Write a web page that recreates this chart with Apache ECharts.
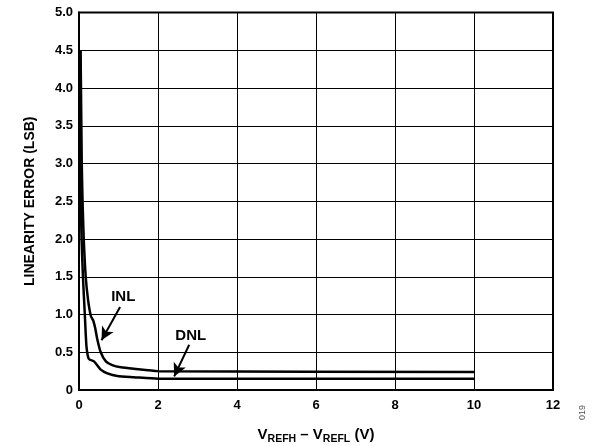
<!DOCTYPE html>
<html>
<head>
<meta charset="utf-8">
<script src="https://cdn.jsdelivr.net/npm/echarts@6/dist/echarts.min.js"></script>
<style>html,body{margin:0;padding:0;background:#fff}#c{width:600px;height:446px}</style>
</head>
<body>
<div id="c"></div>
<script>
var xTicks = [0, 2, 4, 6, 8, 10, 12];
var yTicks = [0, 0.5, 1.0, 1.5, 2.0, 2.5, 3.0, 3.5, 4.0, 4.5, 5.0];
var inlX = [0.04, 0.05, 0.07, 0.09, 0.12, 0.17, 0.23, 0.30, 0.36, 0.41, 0.46, 0.55, 0.68, 0.84, 1.06, 1.39, 2.0, 10];
var inlY = [4.5, 4.0, 3.0, 2.5, 2.0, 1.5, 1.19, 0.98, 0.92, 0.82, 0.68, 0.50, 0.38, 0.33, 0.30, 0.28, 0.25, 0.24];
var dnlX = [0.03, 0.035, 0.04, 0.065, 0.10, 0.15, 0.19, 0.25, 0.38, 0.55, 0.72, 0.97, 1.39, 2.0, 10];
var dnlY = [4.5, 3.5, 2.65, 2.0, 1.5, 0.97, 0.57, 0.41, 0.38, 0.27, 0.22, 0.185, 0.17, 0.15, 0.15];
var labelINL = {name: 'INL', x: 1.12, y: 1.24};
var labelDNL = {name: 'DNL', x: 2.83, y: 0.72};
var arrowINL = [[1.04, 1.10], [0.57, 0.66]];
var arrowDNL = [[2.79, 0.60], [2.41, 0.18]];

function pairs(xs, ys) { return xs.map(function (x, i) { return [x, ys[i]]; }); }
var FONT = '"Liberation Sans", Arial, sans-serif';

var chart = echarts.init(document.getElementById('c'), null, {renderer: 'canvas'});
chart.setOption({
  animation: false,
  backgroundColor: '#fff',
  grid: {left: 79, right: 47, top: 12.5, bottom: 56, containLabel: false, outerBoundsMode: 'none',
    show: true, borderColor: '#000', borderWidth: 2, backgroundColor: 'transparent'},
  xAxis: {
    type: 'value', min: xTicks[0], max: xTicks[xTicks.length - 1], interval: 2,
    axisLine: {show: true, lineStyle: {color: '#000', width: 2}},
    axisTick: {show: false},
    splitLine: {show: true, lineStyle: {color: '#000', width: 1}},
    axisLabel: {color: '#000', fontFamily: FONT, fontWeight: 'bold', fontSize: 13, margin: 9},
    name: '{a|V}{s|REFH}{a| – V}{s|REFL}{a| (V)}',
    nameLocation: 'middle', nameGap: 35,
    nameTextStyle: {
      rich: {
        a: {fontFamily: FONT, fontWeight: 'bold', fontSize: 15, color: '#000', verticalAlign: 'bottom', lineHeight: 17},
        s: {fontFamily: FONT, fontWeight: 'bold', fontSize: 10.5, color: '#000', verticalAlign: 'bottom', lineHeight: 10, padding: [0, 0, -3, 0]}
      }
    }
  },
  yAxis: {
    type: 'value', min: yTicks[0], max: yTicks[yTicks.length - 1], interval: 0.5,
    axisLine: {show: true, lineStyle: {color: '#000', width: 2}},
    axisTick: {show: false},
    splitLine: {show: true, lineStyle: {color: '#000', width: 1}},
    axisLabel: {color: '#000', fontFamily: FONT, fontWeight: 'bold', fontSize: 13, margin: 6,
      formatter: function (v) { return v === 0 ? '0' : v.toFixed(1); }},
    name: 'LINEARITY ERROR (LSB)', nameLocation: 'middle', nameGap: 42,
    nameTextStyle: {color: '#000', fontFamily: FONT, fontWeight: 'bold', fontSize: 14}
  },
  series: [
    {
      name: 'INL', type: 'line', data: pairs(inlX, inlY), showSymbol: false, smooth: 0.2,
      lineStyle: {color: '#000', width: 2.5}, z: 5,
      markLine: {
        silent: true, symbol: ['none', 'arrow'], symbolSize: [10, 13],
        lineStyle: {color: '#000', width: 2, type: 'solid'}, label: {show: false},
        data: [
          [{coord: arrowINL[0]}, {coord: arrowINL[1]}],
          [{coord: arrowDNL[0]}, {coord: arrowDNL[1]}]
        ]
      },
      markPoint: {
        silent: true, symbol: 'circle', symbolSize: 0,
        label: {show: true, position: 'inside', color: '#000', fontFamily: FONT, fontWeight: 'bold', fontSize: 15,
          formatter: function (p) { return p.name; }},
        data: [
          {name: labelINL.name, coord: [labelINL.x, labelINL.y]},
          {name: labelDNL.name, coord: [labelDNL.x, labelDNL.y]}
        ]
      }
    },
    {
      name: 'DNL', type: 'line', data: pairs(dnlX, dnlY), showSymbol: false, smooth: 0.2,
      lineStyle: {color: '#000', width: 2.5}, z: 5
    }
  ],
  graphic: [
    {type: 'text', left: 578, top: 405, rotation: Math.PI / 2,
      style: {text: '019', fill: '#555', font: '9px ' + FONT}}
  ]
});
</script>
</body>
</html>
